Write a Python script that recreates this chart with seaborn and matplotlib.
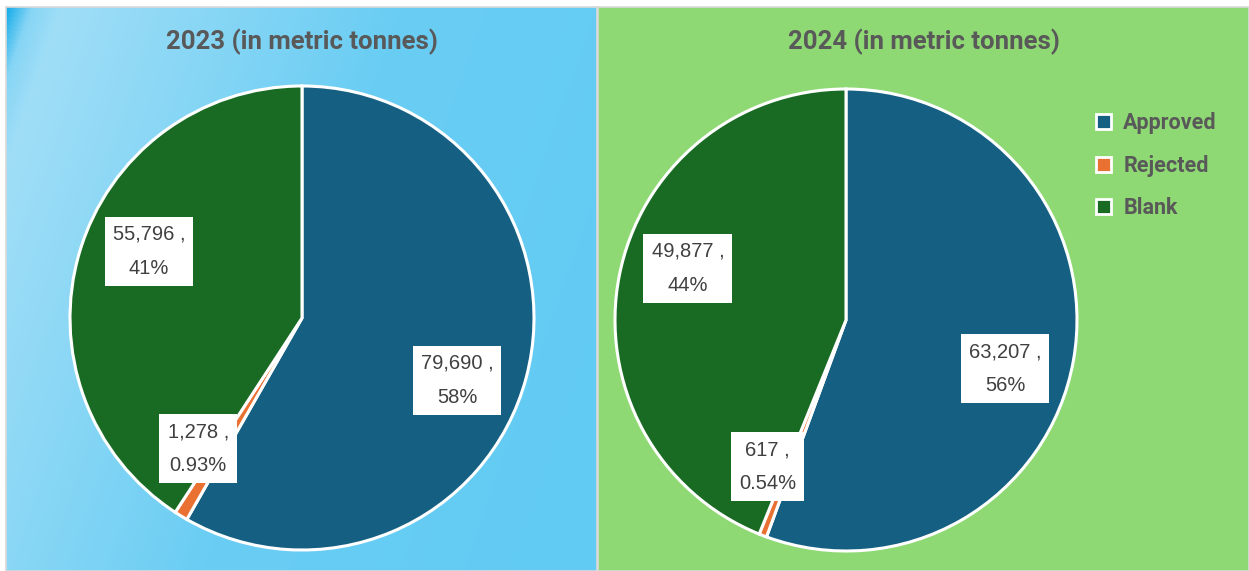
import numpy as np
import matplotlib
matplotlib.use("Agg")
import matplotlib.pyplot as plt
import seaborn as sns
from matplotlib.colors import LinearSegmentedColormap

# data
categories = ["Approved", "Rejected", "Blank"]
years = ["2023", "2024"]
values_2023 = [79690, 1278, 55796]
values_2024 = [63207, 617, 49877]
pct_2023 = ["58%", "0.93%", "41%"]
pct_2024 = ["56%", "0.54%", "44%"]

colors = ["#156082", "#E97132", "#196B24"]
panel_colors = ["#61CBF3", "#8ED973"]

sns.set_theme(style="white")
plt.rcParams["font.family"] = ["Liberation Sans", "DejaVu Sans"]

W, H = 1249, 571
fig = plt.figure(figsize=(W / 100, H / 100), dpi=100)
fig.patch.set_facecolor("white")


def fbox(x0, y0, x1, y1):
    # pixel box (top-left origin) -> figure fraction rect
    return [x0 / W, 1 - y1 / H, (x1 - x0) / W, (y1 - y0) / H]


# background panels
panels = [(6, 7, 597, 571), (598, 7, 1249, 571)]
for i, (x0, y0, x1, y1) in enumerate(panels):
    bg = fig.add_axes(fbox(x0, y0, x1, y1))
    bg.set_xlim(0, 1)
    bg.set_ylim(0, 1)
    if i == 0:
        # soft light streak from the top-left corner
        gx, gy = np.meshgrid(np.linspace(0, 1, 400), np.linspace(0, 1, 400))
        t = gx * 0.75 + gy * 0.25
        cmap = LinearSegmentedColormap.from_list(
            "bluegrad",
            [(0, "#1AAEEA"), (0.03, "#86D5F5"), (0.07, "#A0DEF7"),
             (0.5, "#6ACDF3"), (1, "#61CBF3")])
        bg.imshow(t, cmap=cmap, extent=(0, 1, 0, 1), aspect="auto",
                  origin="upper", vmin=0, vmax=1)
    else:
        bg.set_facecolor(panel_colors[i])
    for s in bg.spines.values():
        s.set_color("#D9D9D9")
        s.set_linewidth(1.2)
    bg.set_xticks([])
    bg.set_yticks([])

# pies
pie_geom = [(302, 318, 232), (846, 320, 231)]
all_values = [values_2023, values_2024]
all_pcts = [pct_2023, pct_2024]
title_x = [302, 924]

for i in range(2):
    cx, cy, r = pie_geom[i]
    ax = fig.add_axes(fbox(cx - r, cy - r, cx + r, cy + r))
    vals = all_values[i]
    wedges, _ = ax.pie(vals, colors=colors, startangle=90, counterclock=False,
                       radius=1,
                       wedgeprops=dict(edgecolor="white", linewidth=2.2))
    ax.set_xlim(-1, 1)
    ax.set_ylim(-1, 1)
    ax.axis("off")
    for j, w in enumerate(wedges):
        mid = np.deg2rad((w.theta1 + w.theta2) / 2 - 7)
        d = 0.72
        ax.text(d * np.cos(mid), d * np.sin(mid),
                "{:,} ,\n{}".format(vals[j], all_pcts[i][j]),
                ha="center", va="center", fontsize=14.5, color="#404040",
                linespacing=2.0,
                bbox=dict(boxstyle="square,pad=0.4", fc="white", ec="none"))
    fig.text(title_x[i] / W, 1 - 42 / H, years[i] + " (in metric tonnes)",
             ha="center", va="center", fontsize=18.5, fontweight="bold",
             color="#595959", family=["Roboto", "DejaVu Sans"])

# legend
handles = [plt.Rectangle((0, 0), 1, 1, fc=c, ec="white", lw=2) for c in colors]
leg = fig.legend(handles, categories, loc="upper left",
                 bbox_to_anchor=(1077 / W, 1 - 93 / H), frameon=False,
                 handlelength=0.7, handleheight=0.7, handletextpad=0.55,
                 labelspacing=0.95,
                 prop=dict(size=15.5, weight="bold",
                           family=["Roboto", "DejaVu Sans"]))
for t in leg.get_texts():
    t.set_color("#595959")

plt.savefig("out.png", dpi=100)
